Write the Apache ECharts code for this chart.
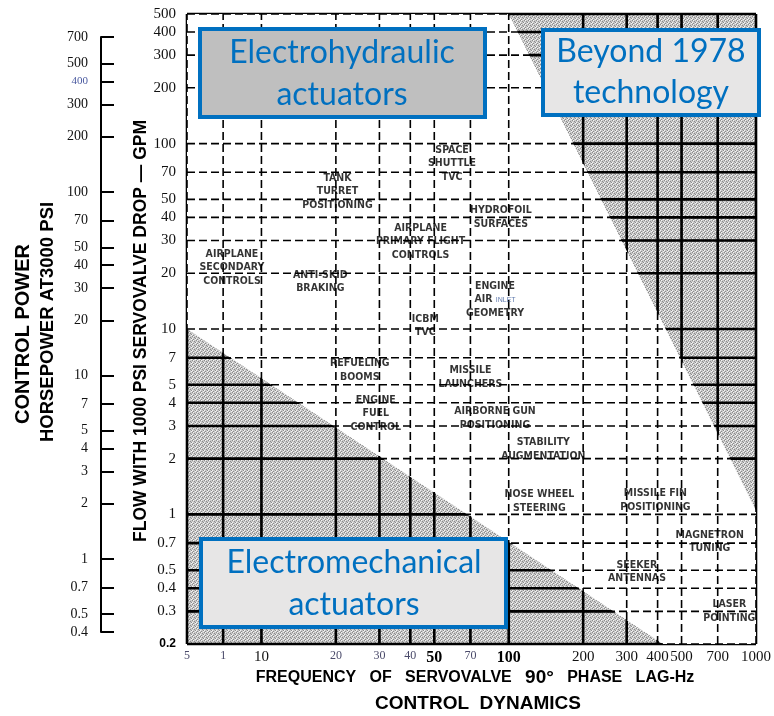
<!DOCTYPE html>
<html><head><meta charset="utf-8">
<script src="https://cdn.jsdelivr.net/npm/echarts@6/dist/echarts.min.js"></script>
<style>html,body{margin:0;padding:0;background:#fff}#c{width:774px;height:716px}</style>
</head><body><div id="c"></div>
<script>
// ---------- data ----------
const xTickValues = [5, 7, 10, 20, 30, 40, 50, 70, 100, 200, 300, 400, 500, 700, 1000];
const xTickLabels = ['5', '1', '10', '20', '30', '40', '50', '70', '100', '200', '300', '400', '500', '700', '1000'];
const yTickValues = [0.2, 0.3, 0.4, 0.5, 0.7, 1, 2, 3, 4, 5, 7, 10, 20, 30, 40, 50, 70, 100, 200, 300, 400, 500];
const yTickLabels = ['0.2', '0.3', '0.4', '0.5', '0.7', '1', '2', '3', '4', '5', '7', '10', '20', '30', '40', '50', '70', '100', '200', '300', '400', '500'];
const hpTickValues = [0.4, 0.5, 0.7, 1, 2, 3, 4, 5, 7, 10, 20, 30, 40, 50, 70, 100, 200, 300, 400, 500, 700];
const hpTickLabels = ['0.4', '0.5', '0.7', '1', '2', '3', '4', '5', '7', '10', '20', '30', '40', '50', '70', '100', '200', '300', '400', '500', '700'];

// shaded regions (frequency Hz, flow GPM)
const beyondFreq = [100, 1000, 1000];
const beyondFlow = [500, 500, 1.05];
const electromechFreq = [5, 5, 420];
const electromechFlow = [10, 0.2, 0.2];

// applications (label centre: frequency Hz, flow GPM)
const appNames = [
  'SPACE\nSHUTTLE\nTVC', 'TANK\nTURRET\nPOSITIONING', 'HYDROFOIL\nSURFACES',
  'AIRPLANE\nPRIMARY FLIGHT\nCONTROLS', 'AIRPLANE\nSECONDARY\nCONTROLS', 'ANTI-SKID\nBRAKING',
  'ENGINE\nAIR {sm|INLET}\nGEOMETRY', 'ICBM\nTVC', 'REFUELING\nBOOMS', 'MISSILE\nLAUNCHERS',
  'ENGINE\nFUEL\nCONTROL', 'AIRBORNE GUN\nPOSITIONING', 'STABILITY\nAUGMENTATION',
  'NOSE WHEEL\nSTEERING', 'MISSILE FIN\nPOSITIONING', 'MAGNETRON\nTUNING',
  'SEEKER\nANTENNAS', 'LASER\nPOINTING'
];
const appFreq = [59, 20.3, 93, 44, 7.6, 17.3, 88, 46, 25, 70, 29, 88, 138, 133, 392, 650, 330, 780];
const appFlow = [78, 55, 40, 29.6, 21.5, 18, 14.4, 10.4, 6.0, 5.5, 3.5, 3.3, 2.24, 1.18, 1.19, 0.71, 0.49, 0.30];

// ---------- helpers ----------
const lg = Math.log10;
const xMin = xTickValues[0], xMax = xTickValues[xTickValues.length - 1];
const yMin = yTickValues[0], yMax = yTickValues[yTickValues.length - 1];
function labelFor(values, labels, v) {
  for (let i = 0; i < values.length; i++) if (Math.abs(lg(values[i]) - v) < 1e-6) return labels[i];
  return '';
}
function makePattern() {
  const c = document.createElement('canvas');
  c.width = 4; c.height = 4;
  const g = c.getContext('2d');
  g.fillStyle = '#c8c8c8'; g.fillRect(0, 0, 4, 4);
  g.fillStyle = '#8c8c8c';
  [[0, 0], [2, 1], [1, 3], [3, 2]].forEach(p => g.fillRect(p[0], p[1], 1, 1));
  g.fillStyle = '#f4f4f4';
  [[1, 0], [3, 3], [0, 2]].forEach(p => g.fillRect(p[0], p[1], 1, 1));
  return c;
}
const pattern = { image: makePattern(), repeat: 'repeat' };

function polySeries(freqs, flows, fill, z) {
  return {
    type: 'custom', z: z, silent: true,
    data: [[lg(xMin), lg(yMin)]],
    renderItem: function (params, api) {
      const pts = freqs.map((f, i) => api.coord([lg(f), lg(flows[i])]));
      return { type: 'polygon', shape: { points: pts }, style: { fill: fill } };
    }
  };
}
function gridSeries(dir, style, z) {
  const vals = dir === 'v' ? xTickValues : yTickValues;
  return {
    type: 'custom', z: z, silent: true,
    data: vals.map(v => dir === 'v' ? [lg(v), lg(yMin)] : [lg(xMin), lg(v)]),
    renderItem: function (params, api) {
      let p1, p2;
      if (dir === 'v') {
        p1 = api.coord([api.value(0), lg(yMin)]); p2 = api.coord([api.value(0), lg(yMax)]);
      } else {
        p1 = api.coord([lg(xMin), api.value(1)]); p2 = api.coord([lg(xMax), api.value(1)]);
      }
      return { type: 'line', shape: { x1: p1[0], y1: p1[1], x2: p2[0], y2: p2[1] }, style: style };
    }
  };
}

const solidStyle = { stroke: '#000', lineWidth: 2.6, fill: null };
const dashStyle = { stroke: '#000', lineWidth: 1.6, lineDash: [8, 4], fill: null };

// white (unshaded) band = plot minus the two shaded triangles
const bandFreq = [electromechFreq[0], xMin, beyondFreq[0], beyondFreq[2], xMax, electromechFreq[2]];
const bandFlow = [electromechFlow[0], yMax, beyondFlow[0], beyondFlow[2], yMin, electromechFlow[2]];

const xLabelRich = {
  lt: { fontFamily: 'Liberation Serif', fontSize: 12, color: '#4a4a6a' },
  nm: { fontFamily: 'Liberation Serif', fontSize: 15, color: '#111' },
  bd: { fontFamily: 'Liberation Serif', fontSize: 16, fontWeight: 'bold', color: '#000' }
};
const xLabelKind = { '5': 'lt', '1': 'lt', '20': 'lt', '30': 'lt', '40': 'lt', '70': 'lt', '50': 'bd', '100': 'bd' };

const chart = echarts.init(document.getElementById('c'), null, { renderer: 'canvas' });
const titleFont = 'Liberation Sans, Arial, sans-serif';
const boxFont = 'Lato, sans-serif';
const blue = '#0070c0';
const appFont = '"DejaVu Sans Condensed", "Liberation Sans", sans-serif';

chart.setOption({
  animation: false,
  backgroundColor: '#fff',
  grid: [
    { left: 187, top: 14, width: 571, height: 630 },
    { left: 101, top: 37, width: 1, height: 595 }
  ],
  xAxis: [
    {
      gridIndex: 0, type: 'value', min: lg(xMin), max: lg(xMax),
      axisLine: { show: false }, axisTick: { show: false }, splitLine: { show: false },
      axisLabel: {
        customValues: xTickValues.map(lg), margin: 6,
        formatter: v => { const t = labelFor(xTickValues, xTickLabels, v); return '{' + (xLabelKind[t] || 'nm') + '|' + t + '}'; },
        rich: xLabelRich
      }
    },
    { gridIndex: 1, type: 'value', min: 0, max: 1, show: false }
  ],
  yAxis: [
    {
      gridIndex: 0, type: 'value', min: lg(yMin), max: lg(yMax),
      axisLine: { show: false }, splitLine: { show: false },
      axisTick: { show: true, inside: true, length: 6, customValues: yTickValues.map(lg), lineStyle: { color: '#000', width: 2 } },
      axisLabel: {
        customValues: yTickValues.map(lg), margin: 11,
        fontFamily: 'Liberation Serif', fontSize: 15, color: '#111',
        formatter: v => { const t = labelFor(yTickValues, yTickLabels, v); return t === '0.2' ? '{b|0.2}' : t; },
        rich: { b: { fontFamily: 'Liberation Sans', fontWeight: 'bold', fontSize: 12, color: '#000' } }
      }
    },
    {
      gridIndex: 1, type: 'value', min: lg(hpTickValues[0]), max: lg(hpTickValues[hpTickValues.length - 1]),
      position: 'left',
      axisLine: { show: true, lineStyle: { color: '#000', width: 2 } },
      splitLine: { show: false },
      axisTick: { show: true, inside: true, length: 13, customValues: hpTickValues.map(lg), lineStyle: { color: '#000', width: 2 } },
      axisLabel: {
        customValues: hpTickValues.map(lg), margin: 13,
        fontFamily: 'Liberation Serif', fontSize: 14, color: '#111',
        formatter: v => { const t = labelFor(hpTickValues, hpTickLabels, v); return t === '400' ? '{bl|400}' : t; },
        rich: { bl: { fontFamily: 'Liberation Serif', fontSize: 11, color: '#4a5aa0' } }
      }
    }
  ],
  series: [
    polySeries([xMin, xMin, xMax, xMax], [yMin, yMax, yMax, yMin], pattern, 1),
    gridSeries('v', solidStyle, 2),
    gridSeries('h', solidStyle, 2),
    polySeries(bandFreq, bandFlow, '#ffffff', 3),
    gridSeries('v', dashStyle, 4),
    gridSeries('h', dashStyle, 4),
    {
      type: 'scatter', z: 5, symbolSize: 0, silent: true,
      itemStyle: { color: 'transparent' },
      data: appNames.map((n, i) => ({ name: n, value: [lg(appFreq[i]), lg(appFlow[i])] })),
      label: {
        show: true, position: 'inside', formatter: '{b}',
        fontFamily: appFont, fontWeight: 'bold', fontSize: 10.5, lineHeight: 13.5,
        color: '#000', textBorderWidth: 0, textBorderColor: 'transparent', align: 'center',
        rich: { sm: { fontFamily: 'Liberation Sans', fontSize: 7, color: '#3a5a9a', fontWeight: 'normal', textBorderWidth: 0 } }
      }
    }
  ],
  graphic: [
    // axis titles
    { type: 'text', x: 23, y: 334, rotation: Math.PI / 2, z: 50,
      style: { text: 'CONTROL POWER', font: 'bold 20px ' + titleFont, fill: '#000', align: 'center', verticalAlign: 'middle' } },
    { type: 'text', x: 48, y: 322, rotation: Math.PI / 2, z: 50,
      style: { text: 'HORSEPOWER AT3000 PSI', font: 'bold 18.5px ' + titleFont, fill: '#000', align: 'center', verticalAlign: 'middle' } },
    { type: 'text', x: 141, y: 331, rotation: Math.PI / 2, z: 50,
      style: { text: 'FLOW WITH 1000 PSI SERVOVALVE DROP — GPM', font: 'bold 17.5px ' + titleFont, fill: '#000', align: 'center', verticalAlign: 'middle' } },
    { type: 'text', x: 475, y: 678, z: 50,
      style: { text: 'FREQUENCY   OF   SERVOVALVE   {n|90°}   PHASE   LAG-Hz', font: 'bold 16px ' + titleFont, fill: '#000', align: 'center', verticalAlign: 'middle',
        rich: { n: { font: 'bold 19px ' + titleFont, fill: '#000' } } } },
    { type: 'text', x: 478, y: 704, z: 50,
      style: { text: 'CONTROL  DYNAMICS', font: 'bold 19px ' + titleFont, fill: '#000', align: 'center', verticalAlign: 'middle' } },
    // boxes
    { type: 'rect', z: 100, shape: { x: 200, y: 29, width: 285, height: 88 }, style: { fill: '#bfbfbf', stroke: blue, lineWidth: 4 } },
    { type: 'text', z: 101, x: 342, y: 53, style: { text: 'Electrohydraulic', font: '32px ' + boxFont, fill: blue, align: 'center', verticalAlign: 'middle' } },
    { type: 'text', z: 101, x: 342, y: 95, style: { text: 'actuators', font: '32px ' + boxFont, fill: blue, align: 'center', verticalAlign: 'middle' } },
    { type: 'rect', z: 100, shape: { x: 543, y: 30, width: 216, height: 85 }, style: { fill: '#e7e6e6', stroke: blue, lineWidth: 4 } },
    { type: 'text', z: 101, x: 651, y: 52, style: { text: 'Beyond 1978', font: '32px ' + boxFont, fill: blue, align: 'center', verticalAlign: 'middle' } },
    { type: 'text', z: 101, x: 651, y: 93, style: { text: 'technology', font: '32px ' + boxFont, fill: blue, align: 'center', verticalAlign: 'middle' } },
    { type: 'rect', z: 100, shape: { x: 201, y: 539, width: 305, height: 88 }, style: { fill: '#e7e6e6', stroke: blue, lineWidth: 4 } },
    { type: 'text', z: 101, x: 354, y: 563, style: { text: 'Electromechanical', font: '32px ' + boxFont, fill: blue, align: 'center', verticalAlign: 'middle' } },
    { type: 'text', z: 101, x: 354, y: 605, style: { text: 'actuators', font: '32px ' + boxFont, fill: blue, align: 'center', verticalAlign: 'middle' } }
  ]
});
</script>
</body></html>
